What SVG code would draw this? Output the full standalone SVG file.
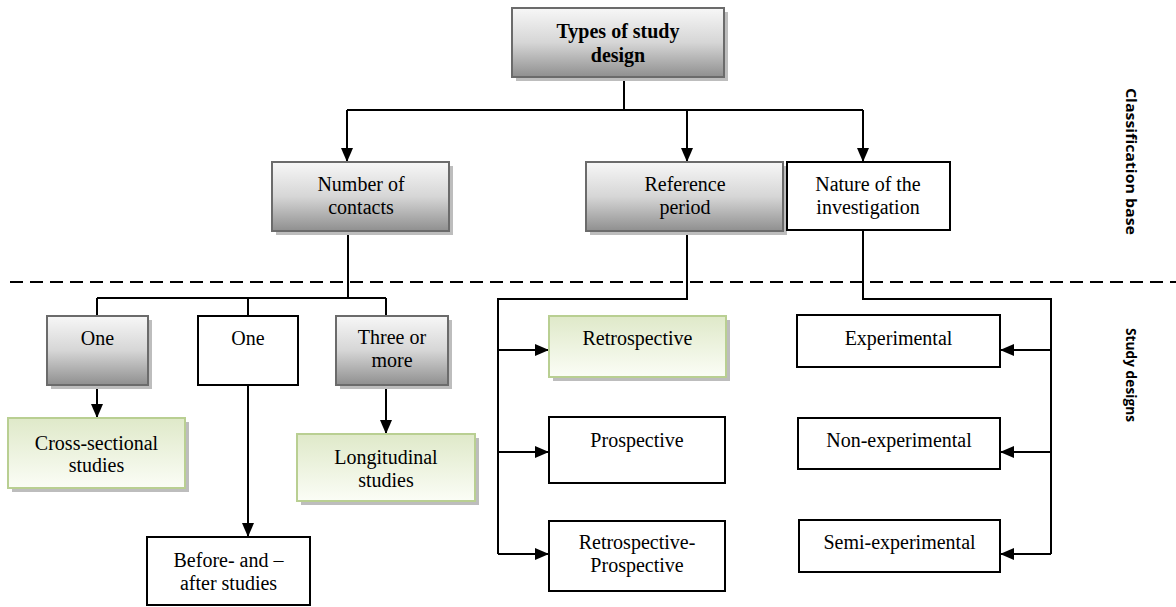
<svg xmlns="http://www.w3.org/2000/svg" width="1176" height="607" viewBox="0 0 1176 607">
<defs>
<linearGradient id="gGray" x1="0" y1="0" x2="0" y2="1">
<stop offset="0" stop-color="#f7f7f7"/>
<stop offset="0.5" stop-color="#d6d6d6"/>
<stop offset="1" stop-color="#8f8f8f"/>
</linearGradient>
<linearGradient id="gGreen" x1="0" y1="0" x2="0" y2="1">
<stop offset="0" stop-color="#dfe9c9"/>
<stop offset="1" stop-color="#fbfdf6"/>
</linearGradient>
<marker id="arr" markerWidth="14" markerHeight="12" refX="14" refY="6" orient="auto" markerUnits="userSpaceOnUse">
<path d="M0,0 L14,6 L0,12 z" fill="#000"/>
</marker>
</defs>
<style>
.gray{fill:url(#gGray);stroke:#6b6b6b;stroke-width:2}
.green{fill:url(#gGreen);stroke:#b9cf92;stroke-width:2}
.white{fill:#fff;stroke:#000;stroke-width:2}
.sh{fill:#bdbdbd}
.c{fill:none;stroke:#000;stroke-width:2}
</style>
<rect width="1176" height="607" fill="#fff"/>

<g id="connectors">
<path class="c" d="M624,77 V110 M347,110 H863"/>
<path class="c" d="M347,110 V162" marker-end="url(#arr)"/>
<path class="c" d="M687,110 V162" marker-end="url(#arr)"/>
<path class="c" d="M863,110 V162" marker-end="url(#arr)"/>
<path class="c" d="M348,231 V298 M97,298 H386 M97,298 V316 M248,298 V316 M386,298 V316"/>
<path class="c" d="M97,385 V418" marker-end="url(#arr)"/>
<path class="c" d="M248,385 V537" marker-end="url(#arr)"/>
<path class="c" d="M386,385 V434" marker-end="url(#arr)"/>
<path class="c" d="M687,231 V299 H498 V554"/>
<path class="c" d="M498,350 H549" marker-end="url(#arr)"/>
<path class="c" d="M498,452 H549" marker-end="url(#arr)"/>
<path class="c" d="M498,554 H549" marker-end="url(#arr)"/>
<path class="c" d="M863,231 V299 H1051 V554"/>
<path class="c" d="M1051,350 H1000" marker-end="url(#arr)"/>
<path class="c" d="M1051,452 H1000" marker-end="url(#arr)"/>
<path class="c" d="M1051,554 H1000" marker-end="url(#arr)"/>
<path d="M10,282 H1176" stroke="#000" stroke-width="2" stroke-dasharray="13,7" fill="none"/>
</g>

<g font-family="Liberation Serif, Times New Roman, serif" font-size="20" text-anchor="middle" fill="#000">
<g id="n-types">
<rect class="sh" x="516" y="12" width="212" height="69"/>
<rect class="gray" x="512" y="8" width="212" height="69"/>
<text font-weight="bold" x="618" y="38">Types of study</text>
<text font-weight="bold" x="618" y="62">design</text>
</g>

<g id="n-contacts">
<rect class="sh" x="276" y="166" width="177" height="69"/>
<rect class="gray" x="272" y="162" width="177" height="69"/>
<text x="361" y="191">Number of</text>
<text x="361" y="214">contacts</text>
</g>

<g id="n-reference">
<rect class="sh" x="590" y="166" width="197" height="69"/>
<rect class="gray" x="586" y="162" width="197" height="69"/>
<text x="685" y="191">Reference</text>
<text x="685" y="214">period</text>
</g>

<g id="n-nature">
<rect class="white" x="787" y="162" width="163" height="68"/>
<text x="868" y="191">Nature of the</text>
<text x="868" y="214">investigation</text>
</g>

<g id="n-one1">
<rect class="sh" x="51" y="320" width="101" height="69"/>
<rect class="gray" x="47" y="316" width="101" height="69"/>
<text x="97.5" y="345">One</text>
</g>

<g id="n-one2">
<rect class="white" x="198" y="316" width="100" height="69"/>
<text x="248" y="345">One</text>
</g>

<g id="n-three">
<rect class="sh" x="340" y="320" width="112" height="69"/>
<rect class="gray" x="336" y="316" width="112" height="69"/>
<text x="392" y="344">Three or</text>
<text x="392" y="367">more</text>
</g>

<g id="n-cross">
<rect class="sh" x="12" y="422" width="177" height="70"/>
<rect class="green" x="8" y="418" width="177" height="70"/>
<text x="96.5" y="450">Cross-sectional</text>
<text x="96.5" y="472">studies</text>
</g>

<g id="n-longitudinal">
<rect class="sh" x="301" y="438" width="178" height="67"/>
<rect class="green" x="297" y="434" width="178" height="67"/>
<text x="386" y="464">Longitudinal</text>
<text x="386" y="487">studies</text>
</g>

<g id="n-before">
<rect class="white" x="147" y="537" width="163" height="68"/>
<text x="228.5" y="567">Before- and –</text>
<text x="228.5" y="590">after studies</text>
</g>

<g id="n-retro">
<rect class="sh" x="553" y="320" width="177" height="61"/>
<rect class="green" x="549" y="316" width="177" height="61"/>
<text x="637.5" y="345">Retrospective</text>
</g>

<g id="n-prosp">
<rect class="white" x="549" y="417" width="176" height="66"/>
<text x="637" y="447">Prospective</text>
</g>

<g id="n-retroprosp">
<rect class="white" x="549" y="521" width="176" height="70"/>
<text x="637" y="549">Retrospective-</text>
<text x="637" y="572">Prospective</text>
</g>

<g id="n-exp">
<rect class="white" x="797" y="315" width="203" height="52"/>
<text x="898.5" y="345">Experimental</text>
</g>

<g id="n-nonexp">
<rect class="white" x="798" y="418" width="202" height="51"/>
<text x="899" y="447">Non-experimental</text>
</g>

<g id="n-semi">
<rect class="white" x="799" y="520" width="201" height="52"/>
<text x="899.5" y="549">Semi-experimental</text>
</g>
</g>

<g id="labels" font-family="Open Sans, Liberation Sans, sans-serif" font-weight="bold" font-size="14" text-anchor="middle" fill="#000">
<text transform="translate(1126,161.5) rotate(90)" textLength="147" lengthAdjust="spacingAndGlyphs">Classification base</text>
<text transform="translate(1126,375) rotate(90)" textLength="94" lengthAdjust="spacingAndGlyphs">Study designs</text>
</g>
</svg>
